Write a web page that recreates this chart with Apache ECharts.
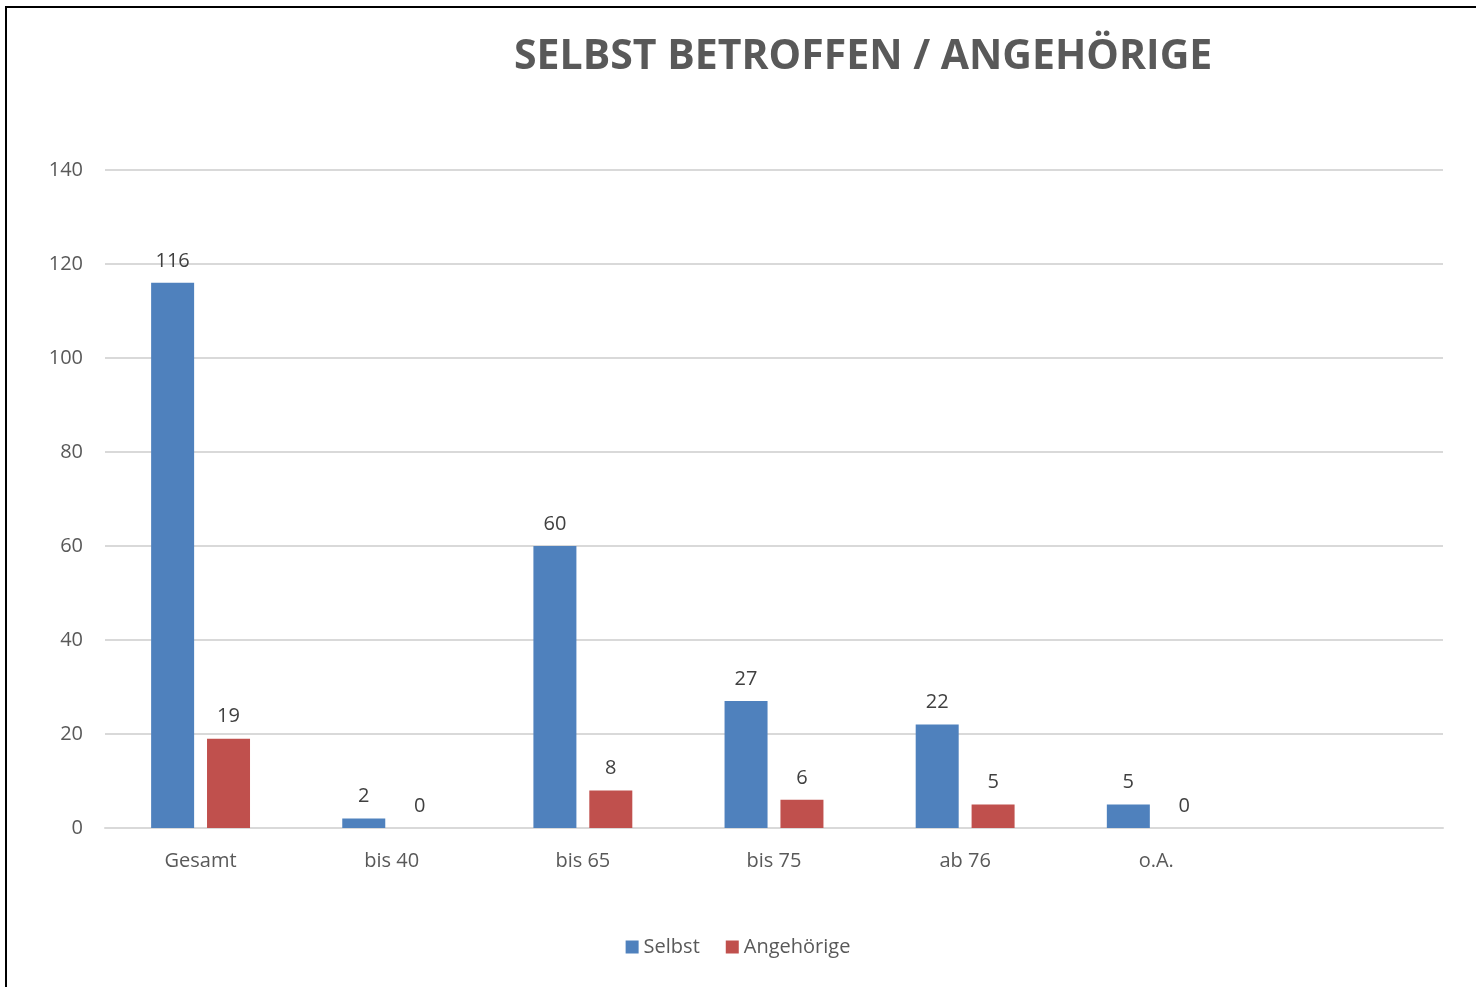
<!DOCTYPE html>
<html>
<head>
    <meta charset="utf-8">
    <title>Selbst betroffen / Angehörige</title>
    <script src="https://cdn.jsdelivr.net/npm/echarts@6/dist/echarts.min.js"></script>
    <style>
        html, body { margin: 0; padding: 0; background: #fff; }
        #frame { position: absolute; left: 5px; top: 6px; width: 2000px; height: 2000px;
                 border-left: 2px solid #000; border-top: 2px solid #000; }
        #main { position: absolute; left: 0; top: 0; width: 1476px; height: 987px; }
    </style>
</head>
<body>
<div id="frame"></div>
<div id="main"></div>
<script type="text/javascript">
    // Altersgruppen (letzte Kategorie ist leer, wie im Original)
    var categories = ['Gesamt', 'bis 40', 'bis 65', 'bis 75', 'ab 76', 'o.A.', ''];
    var selbst = [116, 2, 60, 27, 22, 5, null];
    var angehoerige = [19, 0, 8, 6, 5, 0, null];
    var yTicks = { min: 0, max: 140, interval: 20 };

    var font = '"Open Sans", "Noto Sans", sans-serif';
    var myChart = echarts.init(document.getElementById('main'));

    var labelStyle = {
        show: true,
        position: 'top',
        distance: 12,
        color: '#404040',
        fontSize: 20,
        fontFamily: font
    };

    myChart.setOption({
        animation: false,
        title: {
            text: 'SELBST BETROFFEN / ANGEHÖRIGE',
            left: 509,
            top: 32,
            textStyle: {
                color: '#595959',
                fontSize: 41,
                fontWeight: 'bold',
                fontFamily: font
            }
        },
        legend: {
            bottom: 25,
            left: 'center',
            itemWidth: 13,
            itemHeight: 13,
            itemGap: 26,
            icon: 'rect',
            textStyle: { color: '#595959', fontSize: 20, fontFamily: font },
            data: ['Selbst', 'Angehörige']
        },
        grid: { left: 105, right: 33, top: 170, bottom: 159 },
        xAxis: {
            type: 'category',
            data: categories,
            axisLine: { lineStyle: { color: '#d9d9d9', width: 2 } },
            axisTick: { show: false },
            axisLabel: { color: '#595959', fontSize: 20, fontFamily: font, margin: 23 }
        },
        yAxis: {
            type: 'value',
            min: yTicks.min,
            max: yTicks.max,
            interval: yTicks.interval,
            axisLine: { show: false },
            axisTick: { show: false },
            axisLabel: { color: '#595959', fontSize: 20, fontFamily: font, margin: 22 },
            splitLine: { lineStyle: { color: '#d9d9d9', width: 2 } }
        },
        series: [
            {
                name: 'Selbst',
                type: 'bar',
                barWidth: 43,
                barGap: '30%',
                itemStyle: { color: '#4f81bd' },
                label: labelStyle,
                data: selbst
            },
            {
                name: 'Angehörige',
                type: 'bar',
                barWidth: 43,
                itemStyle: { color: '#c0504d' },
                label: labelStyle,
                data: angehoerige
            }
        ]
    });
</script>
</body>
</html>
